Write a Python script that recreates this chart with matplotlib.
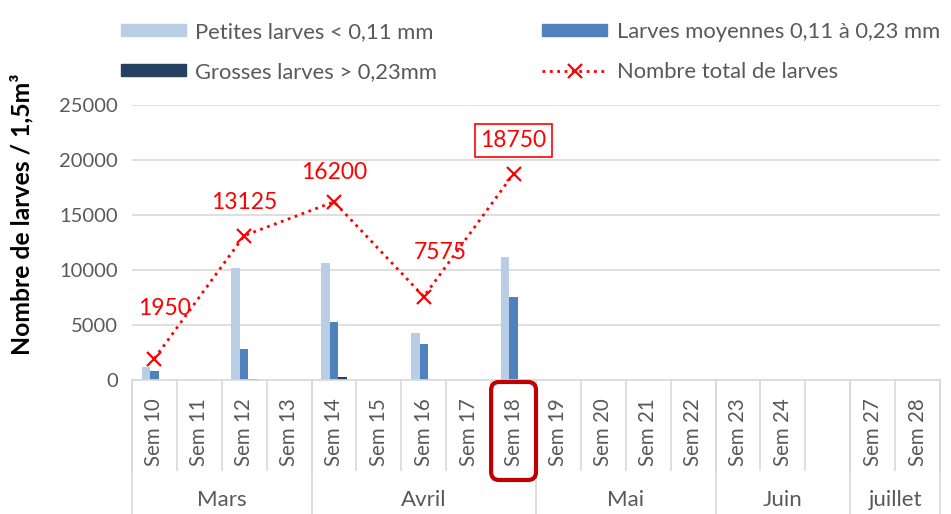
import numpy as np
import matplotlib
matplotlib.use("Agg")
import matplotlib.pyplot as plt
from matplotlib.patches import FancyBboxPatch
from matplotlib.lines import Line2D
from matplotlib.transforms import IdentityTransform

plt.rcParams['font.family'] = ['Lato', 'DejaVu Sans']

# données
semaines = ['Sem 10', 'Sem 11', 'Sem 12', 'Sem 13', 'Sem 14', 'Sem 15', 'Sem 16',
            'Sem 17', 'Sem 18', 'Sem 19', 'Sem 20', 'Sem 21', 'Sem 22', 'Sem 23',
            'Sem 24', '', 'Sem 27', 'Sem 28']
mois = ['Mars', 'Avril', 'Mai', 'Juin', 'juillet']
mois_nb = [4, 5, 4, 3, 2]
nan = np.nan
petites = [1150, nan, 10200, nan, 10600, nan, 4275, nan, 11200,
           nan, nan, nan, nan, nan, nan, nan, nan, nan]
moyennes = [800, nan, 2800, nan, 5300, nan, 3300, nan, 7550,
            nan, nan, nan, nan, nan, nan, nan, nan, nan]
grosses = [0, nan, 125, nan, 300, nan, 0, nan, 0,
           nan, nan, nan, nan, nan, nan, nan, nan, nan]
total = [1950, nan, 13125, nan, 16200, nan, 7575, nan, 18750,
         nan, nan, nan, nan, nan, nan, nan, nan, nan]

c_pet = '#B9CDE5'
c_moy = '#4F81BD'
c_gro = '#254061'
rouge = '#FF0000'
gris = '#595959'
grille = '#D9D9D9'

fig = plt.figure(figsize=(9.51, 5.14), dpi=100)
ax = fig.add_axes([132 / 951, 1 - 380 / 514, 808 / 951, 275 / 514])

x = np.arange(len(semaines))
w = 0.19
ax.bar(x - w, petites, w, color=c_pet, zorder=2)
ax.bar(x, moyennes, w, color=c_moy, zorder=2)
ax.bar(x + w, grosses, w, color=c_gro, zorder=2)

tot = np.array(total, dtype=float)
ok = ~np.isnan(tot)
ax.plot(x[ok], tot[ok], color=rouge, ls=':', lw=2, marker='x', ms=10, mew=1.6, zorder=3)

# étiquettes de données (décalages en points)
decal = {0: (7, 36), 2: (0, 24), 4: (0, 21), 6: (12, 32), 8: (0, 24)}
for i, (dx, dy) in decal.items():
    kw = {}
    if i == 8:
        kw['bbox'] = dict(boxstyle='square,pad=0.25', fc='white', ec=rouge, lw=1.2)
    ax.annotate(f'{int(total[i])}', (x[i], total[i]), xytext=(dx, dy),
                textcoords='offset points', ha='center', va='center',
                color=rouge, fontsize=16.5, zorder=4, **kw)

ax.set_xlim(-0.5, len(semaines) - 0.5)
ax.set_ylim(0, 25000)
ax.set_yticks(np.arange(0, 25001, 5000))
ax.tick_params(axis='y', length=0, labelsize=14.5, labelcolor=gris, pad=10)
ax.set_xticks([])
for s in ['top', 'right', 'left']:
    ax.spines[s].set_visible(False)
ax.spines['bottom'].set_color(grille)
ax.spines['bottom'].set_linewidth(1.2)
ax.yaxis.grid(True, color=grille, lw=1.2, zorder=0)
ax.set_axisbelow(True)

ax.set_ylabel('Nombre de larves / 1,5m³', fontsize=17.8, fontweight='bold', color='black')
ax.yaxis.set_label_coords((33 - 132) / 808, (380 - 214) / 275)

# axe des catégories à deux niveaux
trans = ax.get_xaxis_transform()
for i, lab in enumerate(semaines):
    ax.text(x[i], -0.189, lab, rotation=90, ha='center', va='center',
            fontsize=14.8, color=gris, transform=trans)
for b in np.arange(-0.5, len(semaines), 1.0):
    ax.add_line(Line2D([b, b], [0, -0.327], transform=trans, color=grille, lw=1.2, clip_on=False))
bords = np.concatenate([[0], np.cumsum(mois_nb)]) - 0.5
for b in bords:
    ax.add_line(Line2D([b, b], [0, -0.49], transform=trans, color=grille, lw=1.2, clip_on=False))
for j, m in enumerate(mois):
    ax.text((bords[j] + bords[j + 1]) / 2, -0.436, m, ha='center', va='center',
            fontsize=16, color=gris, transform=trans)

# cadre arrondi autour de Sem 18
x0 = ax.transData.transform((7.5, 0))[0]
x1 = ax.transData.transform((8.5, 0))[0]
y_top = fig.bbox.height - 382
y_bot = fig.bbox.height - 480
cadre = FancyBboxPatch((x0 + 4, y_bot + 4), x1 - x0 - 8, y_top - y_bot - 8,
                       boxstyle='round,pad=4,rounding_size=8', fc='none',
                       ec='#C00000', lw=3, transform=IdentityTransform(), clip_on=False)
fig.add_artist(cadre)

# légende
poignees = [plt.Rectangle((0, 0), 1, 1, color=c_pet),
            plt.Rectangle((0, 0), 1, 1, color=c_gro),
            plt.Rectangle((0, 0), 1, 1, color=c_moy),
            Line2D([], [], color=rouge, ls=':', lw=2, marker='x', ms=10, mew=1.6)]
textes = ['Petites larves < 0,11 mm', 'Grosses larves > 0,23mm',
          'Larves moyennes 0,11 à 0,23 mm', 'Nombre total de larves']
leg = fig.legend(poignees, textes, ncol=2, loc='upper left', bbox_to_anchor=(112 / 951, 1 - 13 / 514),
                 frameon=False, fontsize=15.8, handlelength=2.95, handleheight=0.5,
                 handletextpad=0.45, columnspacing=4.78, labelspacing=0.92, borderaxespad=0)
for t in leg.get_texts():
    t.set_color(gris)

fig.savefig('out.png', dpi=100)
